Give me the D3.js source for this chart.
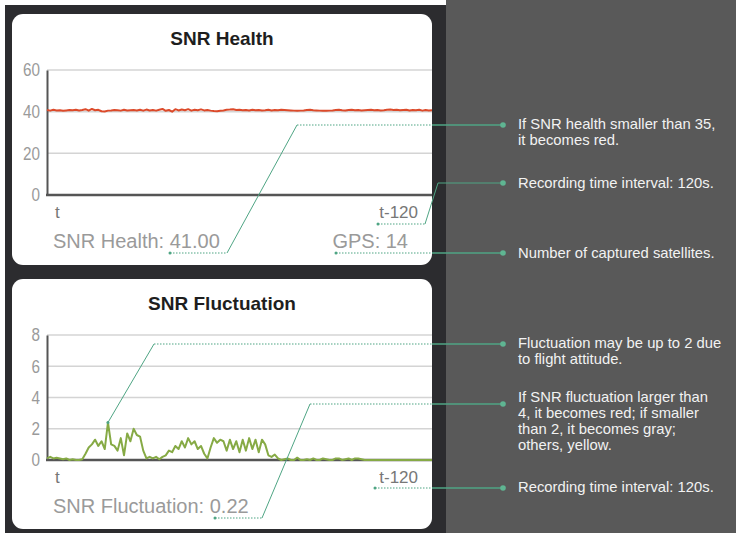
<html>
<script src='https://d3js.org/d3.v7.min.js'></script>
<style>
    body { margin: 0; background: #fff; }
    text { font-family: 'Liberation Sans', Arial, sans-serif; }
    .tick text { font-size: 18px; fill: #9a9a9a; }
    .note { fill: #f2f2f2; font-size: 14.8px; }
</style>

<body onload='init()'>
    <svg width=736 height=533></svg>
    <script>
        // SNR health over the last 120 s (t ... t-120)
        let healthValues = [40.8, 40.5, 40.9, 40.6, 40.7, 40.4, 40.6, 40.8, 40.7, 40.9, 40.6, 40.8, 41.2, 40.5, 41.3, 40.7,
            40.9, 40.2, 40.1, 40.5, 40.6, 40.8, 40.7, 40.5, 40.9, 40.6, 40.7, 40.8, 40.6, 40.9, 40.5, 41.0, 40.6, 40.8, 40.5,
            40.9, 41.3, 40.4, 40.8, 40.0, 41.2, 40.6, 41.0, 40.7, 41.2, 40.5, 40.9, 40.7, 41.1, 40.6, 40.8, 40.5, 40.3, 40.2,
            40.4, 40.6, 40.9, 41.0, 41.2, 40.8, 40.9, 40.7, 40.8, 40.6, 40.9, 40.7, 40.8, 40.6, 40.7, 40.9, 40.6, 40.8, 40.7,
            40.9, 40.8, 40.7, 40.6, 40.5, 40.4, 40.5, 40.6, 40.8, 40.9, 40.7, 40.6, 40.5, 40.4, 40.4, 40.5, 40.6, 40.8, 40.9,
            40.7, 40.6, 40.8, 40.9, 40.7, 40.8, 40.6, 40.7, 40.8, 40.9, 40.7, 40.8, 40.6, 40.7, 40.9, 41.0, 40.8, 40.9, 40.7,
            40.8, 40.9, 40.6, 40.8, 40.7, 40.9, 40.5, 40.8, 40.6, 40.7];
        // SNR fluctuation over the same window
        let fluctValues = [0.1, 0.2, 0.1, 0.15, 0.1, 0.05, 0.1, 0, 0.05, 0, 0, 0.05,
            0.4, 0.8, 1.0, 1.3, 0.9, 1.2, 0.7, 2.4, 1.0, 0.9, 0.6, 1.4, 0.3, 1.7, 1.2, 2.0, 1.6, 1.5, 0.6,
            0.1, 0.2, 0.1, 0.2, 0.05, 0.2, 0.3, 0.6, 0.5, 0.9, 0.7, 1.2, 0.8, 1.4, 1.0, 1.2, 0.7, 0.9, 0.4,
            0.1, 0.8, 1.4, 1.1, 1.3, 1.2, 0.6, 1.3, 0.7, 1.2, 0.5, 1.3, 0.6, 1.4, 0.7, 1.3, 0.5, 1.3, 1.0,
            0.3, 0.2, 0.35, 0.1, 0, 0.05, 0.1, 0, 0, 0.15, 0, 0, 0.05, 0, 0.1, 0, 0, 0.1, 0.05, 0, 0, 0.1,
            0.1, 0, 0.05, 0.1, 0, 0.1, 0.1, 0.05, 0, 0, 0, 0, 0, 0, 0, 0, 0, 0, 0, 0, 0, 0, 0, 0, 0, 0, 0, 0, 0, 0];

        let healthTicks = [0, 20, 40, 60];
        let fluctTicks = [0, 2, 4, 6, 8];
        let timeLabels = ['t', 't-120'];

        let healthReadout = 'SNR Health: 41.00';
        let gpsReadout = 'GPS: 14';
        let fluctReadout = 'SNR Fluctuation: 0.22';

        let notesTop = [
            ['If SNR health smaller than 35,', 'it becomes red.'],
            ['Recording time interval: 120s.'],
            ['Number of captured satellites.']
        ];
        let notesBottom = [
            ['Fluctuation may be up to 2 due', 'to flight attitude.'],
            ['If SNR fluctuation larger than', '4, it becomes red; if smaller', 'than 2, it becomes gray;', 'others, yellow.'],
            ['Recording time interval: 120s.']
        ];

        function init() {
            let svg = d3.select('svg');
            let teal = '#4fa584';

            // backgrounds
            svg.append('rect').attr('x', 5).attr('y', 5).attr('width', 441).attr('height', 528).attr('fill', '#2c2c2f');
            svg.append('rect').attr('x', 446).attr('y', 0).attr('width', 290).attr('height', 533).attr('fill', '#595959');

            let left = 47, right = 432;

            function panel(top, bottom, title, titleY) {
                svg.append('rect').attr('x', 12).attr('y', top).attr('width', right - 12)
                    .attr('height', bottom - top).attr('rx', 11).attr('fill', '#fff');
                svg.append('text').attr('x', 222).attr('y', titleY).attr('text-anchor', 'middle')
                    .style('font-size', '19px').style('font-weight', 'bold').attr('fill', '#1e1e1e').text(title);
            }

            function chart(values, ticks, y0, y1, color) {
                let x = d3.scaleLinear().domain([0, values.length - 1]).range([left, right]);
                let y = d3.scaleLinear().domain([0, d3.max(ticks)]).range([y0, y1]);

                // grid
                svg.append('g').selectAll('line').data(ticks.slice(1)).enter().append('line')
                    .attr('x1', left).attr('x2', right)
                    .attr('y1', d => y(d)).attr('y2', d => y(d))
                    .attr('stroke', '#d4d4d4').attr('stroke-width', 1.5);

                // axes
                let yAxis = d3.axisLeft(y).tickValues(ticks).tickSize(0).tickPadding(7).tickSizeOuter(0);
                let g = svg.append('g').attr('transform', `translate(${left},0)`).call(yAxis);
                g.select('.domain').attr('stroke', '#555').attr('stroke-width', 2);
                // condensed look of the original digits
                g.selectAll('.tick text').style('font-size', '18px')
                    .attr('textLength', d => String(d).length * 8.5).attr('lengthAdjust', 'spacingAndGlyphs');
                svg.append('line').attr('x1', left - 1).attr('x2', right).attr('y1', y(0)).attr('y2', y(0))
                    .attr('stroke', '#555').attr('stroke-width', 2.5);

                let line = d3.line().x((d, i) => x(i)).y(d => y(d));
                svg.append('path').datum(values).attr('d', line)
                    .attr('fill', 'none').attr('stroke', color).attr('stroke-width', 2)
                    .attr('stroke-linejoin', 'round');

                // time labels
                svg.append('text').attr('x', left + 8).attr('y', y0 + 23).attr('fill', '#777')
                    .style('font-size', '17px').text(timeLabels[0]);
                svg.append('text').attr('x', 418).attr('y', y0 + 23).attr('fill', '#777')
                    .attr('text-anchor', 'end').style('font-size', '17px').text(timeLabels[1]);
                return { x: x, y: y };
            }

            function leader(pts) {
                for (let i = 0; i < pts.length - 1; i++) {
                    let a = pts[i], b = pts[i + 1];
                    let horiz = a[1] == b[1];
                    if (horiz && a[0] < right) {
                        let mid = Math.min(b[0], right);
                        svg.append('line').attr('x1', a[0]).attr('y1', a[1]).attr('x2', mid).attr('y2', b[1])
                            .attr('stroke', teal).attr('stroke-width', 1.2).attr('stroke-dasharray', '1.5,1.5');
                        if (b[0] > right) {
                            svg.append('line').attr('x1', right).attr('y1', a[1]).attr('x2', b[0]).attr('y2', b[1])
                                .attr('stroke', teal).attr('stroke-width', 1.3);
                        }
                    } else {
                        svg.append('line').attr('x1', a[0]).attr('y1', a[1]).attr('x2', b[0]).attr('y2', b[1])
                            .attr('stroke', teal).attr('stroke-width', 1);
                    }
                }
                let s = pts[0], e = pts[pts.length - 1];
                svg.append('circle').attr('cx', s[0]).attr('cy', s[1]).attr('r', 1.5).attr('fill', teal);
                svg.append('circle').attr('cx', e[0]).attr('cy', e[1]).attr('r', 2.8).attr('fill', '#5fb592');
            }

            function note(lines, y) {
                let t = svg.append('text').attr('class', 'note').attr('x', 518).attr('y', y);
                lines.forEach((l, i) => t.append('tspan').attr('x', 518).attr('dy', i ? 16 : 0).text(l));
            }

            // ---- top panel
            panel(14, 265, 'SNR Health', 45);
            let top = chart(healthValues, healthTicks, 195, 70, '#dc4a2a');
            svg.append('text').attr('x', 53).attr('y', 248).attr('fill', '#9a9a9a').style('font-size', '20px').text(healthReadout);
            svg.append('text').attr('x', 408).attr('y', 248).attr('fill', '#9a9a9a').attr('text-anchor', 'end')
                .style('font-size', '20px').text(gpsReadout);

            leader([[170, 253], [227, 253], [297, 125], [503, 125]]);
            leader([[378, 224], [425, 224], [438, 183], [503, 183]]);
            leader([[336, 253], [503, 253]]);
            note(notesTop[0], 129);
            note(notesTop[1], 188);
            note(notesTop[2], 258);

            // ---- bottom panel
            panel(279, 529, 'SNR Fluctuation', 310);
            let bot = chart(fluctValues, fluctTicks, 460, 335, '#86aa45');
            svg.append('text').attr('x', 53).attr('y', 513).attr('fill', '#9a9a9a').style('font-size', '20px').text(fluctReadout);

            let peak = d3.maxIndex(fluctValues);
            leader([[bot.x(peak), bot.y(fluctValues[peak])], [154, 344], [503, 344]]);
            leader([[215, 518], [262, 518], [310, 404], [503, 404]]);
            leader([[375, 488], [503, 488]]);
            note(notesBottom[0], 348);
            note(notesBottom[1], 402);
            note(notesBottom[2], 492);
        }
    </script>
</body>

</html>
